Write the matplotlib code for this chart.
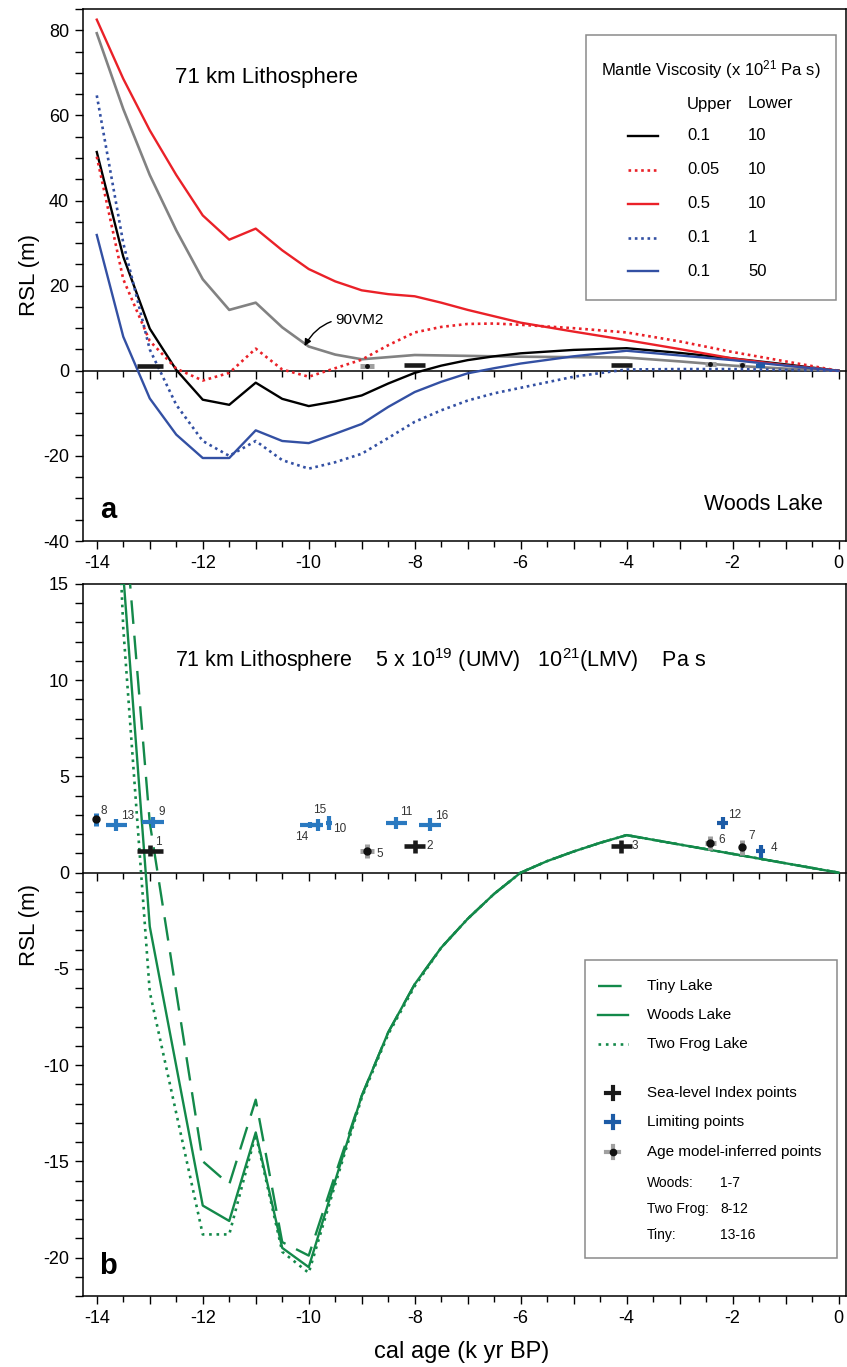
import matplotlib
matplotlib.use("Agg")
import matplotlib.pyplot as plt
from matplotlib.lines import Line2D
from matplotlib.patches import Rectangle
from matplotlib.ticker import FuncFormatter, MultipleLocator
from matplotlib.transforms import Affine2D

plt.rcParams["font.family"] = ["Liberation Sans", "DejaVu Sans"]
plt.rcParams["mathtext.fontset"] = "custom"
plt.rcParams["mathtext.rm"] = "Liberation Sans"
plt.rcParams["mathtext.default"] = "regular"
plt.rcParams["axes.unicode_minus"] = False

# ---------------------------------------------------------------------------
# Data
# ---------------------------------------------------------------------------

# panel a: modelled RSL at Woods Lake, 71 km lithosphere
age_a = [-14, -13.5, -13, -12.5, -12, -11.5, -11, -10.5, -10, -9.5, -9, -8.5,
         -8, -7.5, -7, -6.5, -6, -5, -4, -3, -2, -1, 0]
rsl_u01_l10 = [51.4, 26.8, 9.9, 0.2, -6.8, -8.0, -2.8, -6.6, -8.3, -7.2, -5.8,
               -3.0, -0.5, 1.2, 2.5, 3.4, 4.1, 4.9, 5.3, 4.2, 2.9, 1.5, 0]
rsl_u005_l10 = [50.3, 21.5, 7.0, 0.5, -2.3, -0.5, 5.2, 0.3, -1.4, 0.6, 2.6,
                6.0, 9.0, 10.3, 11.0, 11.1, 10.8, 10.0, 9.0, 6.9, 4.4, 2.2, 0]
rsl_u05_l10 = [82.5, 68.6, 56.5, 46.0, 36.5, 30.8, 33.4, 28.3, 23.9, 21.0, 18.9,
               18.0, 17.5, 16.0, 14.3, 12.8, 11.3, 9.2, 7.2, 5.1, 2.9, 1.3, 0]
rsl_u01_l1 = [64.7, 30.0, 5.0, -8.0, -16.5, -20.0, -16.5, -21.0, -23.0, -21.5,
              -19.5, -15.8, -12.0, -9.3, -7.0, -5.3, -4.0, -1.4, 0.3, 0.4, 0.4,
              0.2, 0]
rsl_u01_l50 = [31.9, 8.0, -6.5, -15.0, -20.5, -20.5, -14.0, -16.5, -17.0, -14.8,
               -12.5, -8.5, -5.0, -2.6, -0.6, 0.6, 1.7, 3.4, 4.7, 3.6, 2.5, 1.2, 0]
rsl_90vm2 = [79.3, 61.5, 46.0, 33.0, 21.5, 14.3, 16.0, 10.2, 5.7, 3.8, 2.7, 3.2,
             3.7, 3.6, 3.5, 3.4, 3.3, 3.2, 3.1, 2.2, 1.2, 0.5, 0]

upper_visc = ["0.1", "0.05", "0.5", "0.1", "0.1"]
lower_visc = ["10", "10", "10", "1", "50"]

# panel b: 5e19 (UMV) / 1e21 (LMV) model at the three lakes
age_b = [-14, -13.5, -13, -12, -11.5, -11, -10.5, -10, -9.5, -9, -8.5, -8,
         -7.5, -7, -6.5, -6, -5.5, -5, -4.5, -4, 0]
rsl_tiny = [55.0, 19.3, 2.6, -15.0, -16.2, -11.8, -19.2, -19.9, -15.7, -11.6,
            -8.3, -5.8, -3.9, -2.4, -1.1, 0.0, 0.6, 1.1, 1.55, 1.95, 0]
rsl_woods = [50.0, 15.5, -2.8, -17.3, -18.1, -13.5, -19.5, -20.5, -16.0, -11.6,
             -8.3, -5.8, -3.9, -2.4, -1.1, 0.0, 0.6, 1.1, 1.55, 1.95, 0]
rsl_twofrog = [45.0, 12.7, -6.2, -18.8, -18.8, -13.6, -19.7, -20.8, -16.2,
               -11.7, -8.4, -5.9, -3.9, -2.4, -1.1, 0.0, 0.6, 1.1, 1.55, 1.95, 0]

# sea-level data points (1-7 Woods, 8-12 Two Frog, 13-16 Tiny)
pt_id = list(range(1, 17))
pt_age = [-13.0, -8.0, -4.1, -1.47, -8.9, -2.42, -1.82, -14.02, -12.94, -9.62,
          -8.35, -2.19, -13.63, -9.97, -9.83, -7.71]
pt_rsl = [1.14, 1.36, 1.36, 1.10, 1.14, 1.54, 1.33, 2.78, 2.61, 2.57, 2.57,
          2.57, 2.49, 2.49, 2.49, 2.49]
pt_age_err = [0.25, 0.2, 0.2, 0.09, 0.13, 0.1, 0.05, 0.04, 0.2, 0.06, 0.2, 0.1,
              0.2, 0.2, 0.1, 0.2]
pt_rsl_err = [0.3, 0.35, 0.35, 0.35, 0.36, 0.36, 0.39, 0.33, 0.3, 0.35, 0.3,
              0.3, 0.3, 0.15, 0.3, 0.35]
pt_kind = ["index", "index", "index", "limit", "age", "age", "age", "age_limit",
           "limit", "limit", "limit", "limit", "limit", "limit", "limit", "limit"]
woods_ids = [1, 2, 3, 4, 5, 6, 7]

# label offsets (pixels) for the point numbers
lbl_off = {1: (9, 9), 2: (15, 0), 3: (13, 0), 4: (13, 3), 5: (13, -3),
           6: (11, 3), 7: (10, 11), 8: (8, 8), 9: (9, 10), 10: (11, -6),
           11: (10, 11), 12: (12, 8), 13: (11, 9), 14: (-9, -12), 15: (2, 15),
           16: (12, 9)}

# ---------------------------------------------------------------------------

RED = "#ea2128"
BLUE = "#3350a3"
GRAY = "#828282"
GREEN = "#13894a"
LBLUE = "#2a79c0"
DBLUE = "#1c5ba6"

W, H = 847, 1367
fig = plt.figure(figsize=(W / 100, H / 100), dpi=100)


def box(l, t, r, b):
    return [l / W, 1 - b / H, (r - l) / W, (b - t) / H]


px = Affine2D().scale(1 / W, -1 / H).translate(0, 1) + fig.transFigure

ax_a = fig.add_axes(box(83, 9, 846, 541))
ax_b = fig.add_axes(box(83, 584, 846, 1296))


def style_axes(ax, ymaj, ymin):
    ax.set_xlim(-14.26, 0.14)
    ax.xaxis.set_major_locator(MultipleLocator(1))
    ax.xaxis.set_minor_locator(MultipleLocator(0.5))
    ax.xaxis.set_major_formatter(
        FuncFormatter(lambda v, p: str(int(round(v))) if int(round(v)) % 2 == 0 else ""))
    ax.yaxis.set_major_locator(MultipleLocator(ymaj))
    ax.yaxis.set_minor_locator(MultipleLocator(ymin))
    ax.tick_params(which="both", direction="out", labelsize=13, width=1,
                   top=False, right=False, pad=4)
    ax.tick_params(which="major", length=6)
    ax.tick_params(which="minor", length=4)
    ax.tick_params(axis="y", which="minor", length=6)
    for s in ax.spines.values():
        s.set_linewidth(1.1)
    # zero line with its own downward ticks
    sec = ax.secondary_xaxis(0, transform=ax.transData)
    sec.xaxis.set_major_locator(MultipleLocator(1))
    sec.xaxis.set_minor_locator(MultipleLocator(0.5))
    sec.tick_params(which="both", direction="out", labelbottom=False, width=1)
    sec.tick_params(which="major", length=6)
    sec.tick_params(which="minor", length=4)
    for s in sec.spines.values():
        s.set_linewidth(1.1)


def draw_points(ax, ids, scale=1.0, dot=5, with_labels=True):
    for i, a, r, ea, er, k in zip(pt_id, pt_age, pt_rsl, pt_age_err,
                                  pt_rsl_err, pt_kind):
        if i not in ids:
            continue
        if k == "index":
            ax.errorbar(a, r, xerr=ea, yerr=er * scale, fmt="none",
                        ecolor="#1a1a1a", elinewidth=3.3, capsize=0, zorder=5)
        elif k == "limit":
            c = DBLUE if a > -4 else LBLUE
            ax.errorbar(a, r, xerr=ea, yerr=er * scale, fmt="none",
                        ecolor=c, elinewidth=3.0, capsize=0, zorder=5)
        elif k == "age":
            ax.errorbar(a, r, xerr=ea, yerr=er * scale, fmt="o", ms=dot,
                        color="#111111", ecolor="#a0a0a0", elinewidth=3.6,
                        capsize=0, zorder=5)
        else:
            ax.errorbar(a, r, xerr=ea, yerr=er * scale, fmt="o", ms=dot,
                        color="#111111", ecolor=LBLUE, elinewidth=3.6,
                        capsize=0, zorder=5)
        if with_labels:
            ax.annotate(str(i), (a, r), xytext=lbl_off[i],
                        textcoords="offset pixels", ha="center", va="center",
                        fontsize=8.5, color="#333333")


# ---------------------------------------------------------------------------
# panel a
# ---------------------------------------------------------------------------
style_axes(ax_a, 20, 5)
ax_a.set_ylim(-40, 85)

a_series = [rsl_u01_l10, rsl_u005_l10, rsl_u05_l10, rsl_u01_l1, rsl_u01_l50]
a_styles = [dict(color="black", lw=1.7, ls="-"),
            dict(color=RED, lw=1.9, ls=(0, (1, 1.4))),
            dict(color=RED, lw=1.7, ls="-"),
            dict(color=BLUE, lw=1.9, ls=(0, (1, 1.4))),
            dict(color=BLUE, lw=1.7, ls="-")]
ax_a.plot(age_a, rsl_90vm2, color=GRAY, lw=1.9, zorder=3)
for ys, st in zip(a_series, a_styles):
    ax_a.plot(age_a, ys, zorder=3, **st)

draw_points(ax_a, woods_ids, scale=0.15, dot=2.5, with_labels=False)

ax_a.annotate("90VM2", xy=(-10.08, 5.8), xytext=(-9.5, 12.0),
              fontsize=11, ha="left", va="center",
              arrowprops=dict(arrowstyle="-|>", color="black", lw=1,
                              mutation_scale=10, shrinkA=1, shrinkB=0,
                              connectionstyle="arc3,rad=0.35"))

fig.text(175, 78, "71 km Lithosphere", transform=px, fontsize=16,
         ha="left", va="center")
fig.text(763, 505, "Woods Lake", transform=px, fontsize=15.5,
         ha="center", va="center")
fig.text(108, 510, "a", transform=px, fontsize=21, fontweight="bold",
         ha="center", va="center")

# legend a (drawn by hand, table layout)
fig.patches.append(Rectangle((586, 300), 250, -265, transform=px, fill=False,
                             edgecolor="#8a8a8a", lw=1.1))
fig.text(711, 70, "Mantle Viscosity (x 10$^{21}$ Pa s)", transform=px,
         fontsize=12, ha="center", va="center")
fig.text(687, 104, "Upper", transform=px, fontsize=12, va="center")
fig.text(748, 104, "Lower", transform=px, fontsize=12, va="center")
row_y = [136, 170, 204, 238, 271]
for y, up, lo, st in zip(row_y, upper_visc, lower_visc, a_styles):
    fig.lines.append(Line2D([628, 658], [y, y], transform=px, **st))
    fig.text(687, y, up, transform=px, fontsize=12, va="center")
    fig.text(748, y, lo, transform=px, fontsize=12, va="center")

# ---------------------------------------------------------------------------
# panel b
# ---------------------------------------------------------------------------
style_axes(ax_b, 5, 1)
ax_b.set_ylim(-22, 15)

b_styles = [dict(color=GREEN, lw=1.7, ls=(0, (10, 5))),
            dict(color=GREEN, lw=1.7, ls="-"),
            dict(color=GREEN, lw=1.9, ls=(0, (1, 1.8)))]
b_names = ["Tiny Lake", "Woods Lake", "Two Frog Lake"]
for ys, st in zip([rsl_tiny, rsl_woods, rsl_twofrog], b_styles):
    ax_b.plot(age_b, ys, zorder=3, **st)

draw_points(ax_b, pt_id)

fig.text(175, 660,
         "71 km Lithosphere    5 x 10$^{19}$ (UMV)   10$^{21}$(LMV)    Pa s",
         transform=px, fontsize=15.5, ha="left", va="center")
fig.text(108, 1266, "b", transform=px, fontsize=21, fontweight="bold",
         ha="center", va="center")

# legend b
fig.patches.append(Rectangle((585, 1258), 252, -298, transform=px, fill=False,
                             edgecolor="#8a8a8a", lw=1.1))
for y, name, st in zip([986, 1015, 1044], b_names, b_styles):
    fig.lines.append(Line2D([598, 628], [y, y], transform=px, **st))
    fig.text(647, y, name, transform=px, fontsize=11, va="center")
mk_y = [1093, 1122, 1152]
mk_names = ["Sea-level Index points", "Limiting points",
            "Age model-inferred points"]
mk_cols = ["#1a1a1a", DBLUE, "#a0a0a0"]
for y, name, c in zip(mk_y, mk_names, mk_cols):
    fig.lines.append(Line2D([606, 619], [y, y], transform=px, color=c, lw=3))
    fig.lines.append(Line2D([612.5, 612.5], [y - 6, y + 6], transform=px,
                            color=c, lw=3))
    fig.text(647, y, name, transform=px, fontsize=11, va="center")
fig.lines.append(Line2D([612.5], [1152], transform=px, marker="o", ms=4.5,
                        color="#111111", ls="none"))
for y, site, rng in zip([1183, 1209, 1235], ["Woods:", "Two Frog:", "Tiny:"],
                        ["1-7", "8-12", "13-16"]):
    fig.text(647, y, site, transform=px, fontsize=10, va="center")
    fig.text(720, y, rng, transform=px, fontsize=10, va="center")

# axis labels
fig.text(30, 275, "RSL (m)", transform=px, fontsize=16, rotation=90,
         ha="center", va="center")
fig.text(30, 925, "RSL (m)", transform=px, fontsize=16, rotation=90,
         ha="center", va="center")
fig.text(462, 1352, "cal age (k yr BP)", transform=px, fontsize=17,
         ha="center", va="center")

fig.savefig("out.png", dpi=100)
